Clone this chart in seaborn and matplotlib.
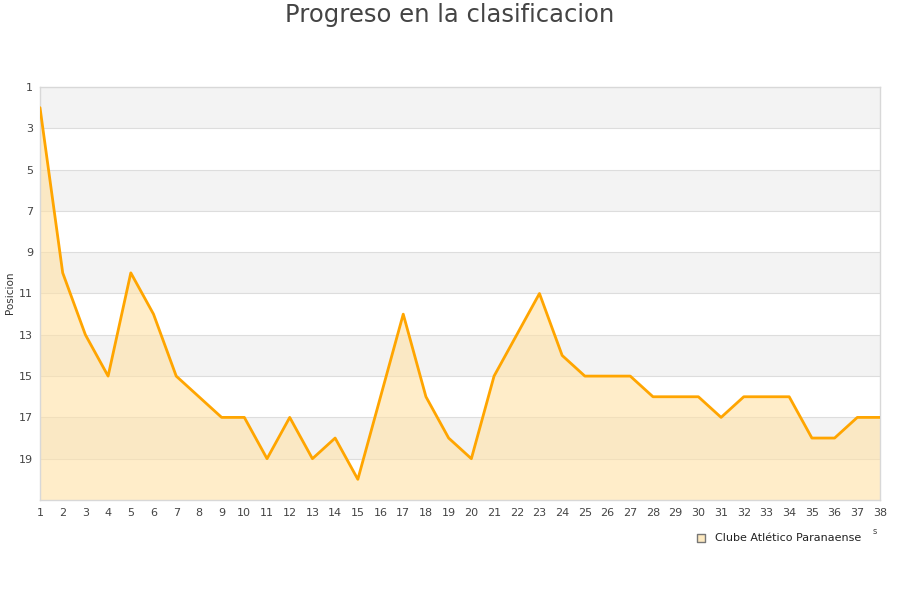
import numpy as np
import pandas as pd
import seaborn as sns
import matplotlib.pyplot as plt

# Datos de la clasificacion por jornada
jornadas = list(range(1, 39))
posiciones = [2, 10, 13, 15, 10, 12, 15, 16, 17, 17,
              19, 17, 19, 18, 20, 16, 12, 16, 18, 19,
              15, 13, 11, 14, 15, 15, 15, 16, 16, 16,
              17, 16, 16, 16, 18, 18, 17, 17]
equipo = 'Clube Atlético Paranaense'
y_ticks = list(range(1, 21, 2))

df = pd.DataFrame({'jornada': jornadas, 'posicion': posiciones})

sns.set_style('white')
plt.rcParams['font.family'] = ['DejaVu Sans']

fig = plt.figure(figsize=(9, 6), dpi=100)
ax = fig.add_axes([40 / 900, 100 / 600, 840 / 900, 413 / 600])

# bandas alternas
for i, y0 in enumerate(range(1, 21, 2)):
    if i % 2 == 0:
        ax.axhspan(y0, y0 + 2, color='#f3f3f3', zorder=0, lw=0)
for y in y_ticks[1:]:
    ax.axhline(y, color='#dddddd', lw=0.8, zorder=0.5)

ax.fill_between(df['jornada'], df['posicion'], 21, color='#ffe2a6', alpha=0.6,
                lw=0, zorder=1)
sns.lineplot(data=df, x='jornada', y='posicion', color='#ffa500', lw=2,
             ax=ax, zorder=3)

ax.set_xlim(1, 38)
ax.set_ylim(21, 1)
ax.set_xticks(jornadas)
ax.set_yticks(y_ticks)
ax.tick_params(axis='both', labelsize=8, colors='#444444', length=0, pad=6)
ax.tick_params(axis='y', pad=5)
ax.set_xlabel('')
ax.set_ylabel('')

for s in ax.spines.values():
    s.set_color('#d8d8d8')
    s.set_linewidth(1)

fig.suptitle('Progreso en la clasificacion', fontsize=17.5, color='#444444',
             y=1 - 15 / 600, va='center')

# leyenda y textos sueltos
ax_leg = fig.add_axes([0, 0, 1, 1], facecolor='none')
ax_leg.set_axis_off()
ax_leg.set_xlim(0, 900)
ax_leg.set_ylim(600, 0)
ax_leg.text(10, 293, 'Posicion', fontsize=7.5, color='#333333', rotation=90,
            ha='center', va='center')
ax_leg.scatter([701], [538], marker='s', s=40, facecolor='#fde9c0',
               edgecolor='#777777', linewidth=1)
ax_leg.text(715, 538, equipo, fontsize=8, color='#222222', va='center')
ax_leg.text(875, 532, 's', fontsize=6, color='#444444', va='center', ha='center')

fig.savefig('out.png', dpi=100)
